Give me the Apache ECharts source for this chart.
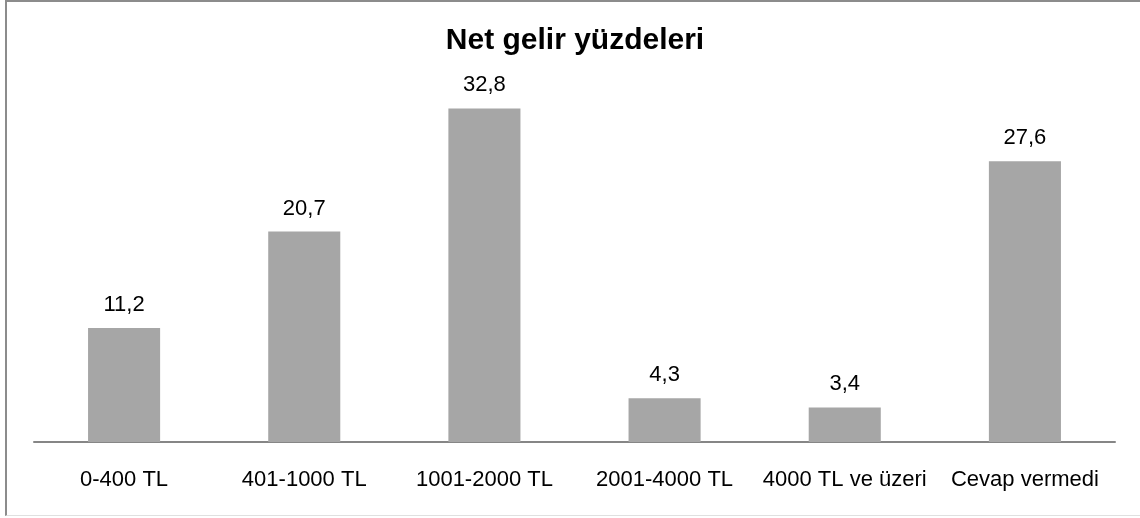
<!DOCTYPE html>
<html>
	<head>
		<meta charset="UTF-8">
		<title>Net gelir yüzdeleri</title>
		<script src="https://cdn.jsdelivr.net/npm/echarts@6/dist/echarts.min.js" type="text/javascript" charset="utf-8"></script>
		<style>
			html, body { margin: 0; padding: 0; background: #fff; }
			#wrap { position: relative; width: 1140px; height: 518px; }
			#chart { width: 1140px; height: 518px; }
			#frame {
				position: absolute; left: 5px; top: 0; width: 1135px; height: 516px;
				border-left: 2px solid #8c8c8c; border-top: 2px solid #8c8c8c;
				border-bottom: 1px solid #e0e0e0; box-sizing: border-box; pointer-events: none;
			}
		</style>
	</head>
	<body>
		<div id="wrap">
			<div id="chart"></div>
			<div id="frame"></div>
		</div>

		<script type="text/javascript">
			// veriler
			var categories = ['0-400 TL', '401-1000 TL', '1001-2000 TL', '2001-4000 TL', '4000 TL ve üzeri', 'Cevap vermedi'];
			var values = [11.2, 20.7, 32.8, 4.3, 3.4, 27.6];

			var myChart = echarts.init(document.getElementById('chart'));
			var option = {
				animation: false,
				title: {
					text: 'Net gelir yüzdeleri',
					left: 570,
					top: 21,
					textAlign: 'center',
					textStyle: {
						fontFamily: 'Liberation Sans',
						fontSize: 30,
						fontWeight: 'bold',
						color: '#000'
					}
				},
				grid: {
					left: 34,
					right: 25,
					top: 86,
					bottom: 76
				},
				xAxis: {
					type: 'category',
					data: categories,
					axisLine: { lineStyle: { color: '#868686', width: 2 } },
					axisTick: { show: false },
					axisLabel: {
						interval: 0,
						margin: 27,
						fontFamily: 'Liberation Sans',
						fontSize: 22,
						color: '#000'
					}
				},
				yAxis: {
					type: 'value',
					min: 0,
					max: 35,
					show: false,
					splitLine: { show: false }
				},
				series: [
					{
						type: 'bar',
						data: values,
						barCategoryGap: '60%',
						itemStyle: { color: '#a6a6a6' },
						label: {
							show: true,
							position: 'top',
							distance: 12,
							fontFamily: 'Liberation Sans',
							fontSize: 22,
							color: '#000',
							formatter: function (p) {
								return String(p.value).replace('.', ',');
							}
						}
					}
				]
			};
			myChart.setOption(option);
		</script>
	</body>
</html>
